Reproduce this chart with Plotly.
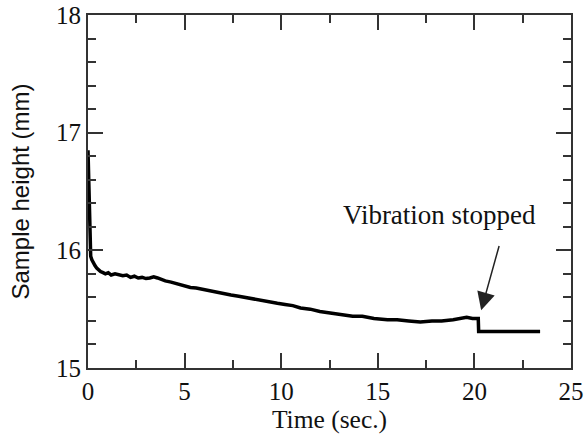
import plotly.graph_objects as go

time_s = [0.00, 0.02, 0.04, 0.06, 0.08, 0.10, 0.14, 0.20, 0.28, 0.36, 0.45, 0.55, 0.65, 0.78, 0.90,
          1.05, 1.20, 1.40, 1.60, 1.80, 2.00, 2.20, 2.40, 2.60, 2.80, 3.00, 3.20, 3.40, 3.60, 3.80,
          4.00, 4.30, 4.60, 5.00, 5.30, 5.60, 6.00, 6.40, 6.70, 7.00, 7.40, 7.80, 8.10, 8.40, 8.80,
          9.20, 9.50, 9.80, 10.20, 10.60, 11.00, 11.50, 12.00, 12.50, 13.00, 13.70, 14.20, 14.80,
          15.50, 16.00, 16.60, 17.20, 17.80, 18.30, 18.90, 19.30, 19.60, 19.90, 20.20, 20.22,
          20.50, 21.00, 21.50, 22.00, 22.50, 23.00, 23.40]
height_mm = [16.85, 16.72, 16.50, 16.30, 16.12, 16.00, 15.95, 15.92, 15.89, 15.87, 15.85, 15.83, 15.82, 15.81, 15.80,
             15.81, 15.79, 15.80, 15.79, 15.785, 15.79, 15.77, 15.78, 15.765, 15.77, 15.76, 15.765, 15.775, 15.765, 15.75,
             15.74, 15.73, 15.715, 15.70, 15.685, 15.68, 15.665, 15.65, 15.64, 15.63, 15.62, 15.61, 15.60, 15.59, 15.58,
             15.57, 15.56, 15.55, 15.54, 15.53, 15.51, 15.50, 15.48, 15.47, 15.46, 15.44, 15.44, 15.42,
             15.41, 15.41, 15.40, 15.39, 15.40, 15.40, 15.41, 15.42, 15.43, 15.42, 15.42, 15.31,
             15.31, 15.315, 15.31, 15.31, 15.315, 15.31, 15.31]

x_ticks = [0, 5, 10, 15, 20, 25]
y_ticks = [15, 16, 17, 18]

serif = "Liberation Serif, Times New Roman, serif"
sans = "Liberation Sans, Arial, sans-serif"
axcol = "#333333"
txt = "#111111"

fig = go.Figure()
fig.add_trace(go.Scatter(x=time_s, y=height_mm, mode="lines",
                         line=dict(color="black", width=3.5), showlegend=False))

common = dict(showgrid=False, zeroline=False, showline=True, linecolor=axcol, linewidth=2,
              mirror="ticks", ticks="inside", ticklen=15, tickwidth=2, tickcolor=axcol,
              automargin=False, tickfont=dict(family=serif, size=25, color=txt))

fig.update_xaxes(range=[0, 25], tickvals=x_ticks, ticktext=[str(v) for v in x_ticks],
                 minor=dict(dtick=2.5, tick0=0, ticks="inside", ticklen=8, tickwidth=2, tickcolor=axcol),
                 title=dict(text="Time (sec.)", font=dict(family=serif, size=25.5, color=txt), standoff=5),
                 **common)
fig.update_yaxes(range=[15, 18], tickvals=y_ticks, ticktext=[str(v) for v in y_ticks],
                 minor=dict(dtick=0.2, tick0=15, ticks="inside", ticklen=8, tickwidth=2, tickcolor=axcol),
                 title=dict(text="Sample height (mm)", font=dict(family=sans, size=24, color=txt), standoff=20),
                 **common)

fig.add_annotation(x=20.35, y=15.49, ax=21.3, ay=16.05, xref="x", yref="y", axref="x", ayref="y",
                   text="", showarrow=True, arrowhead=2, arrowsize=2.4, arrowwidth=1.5, arrowcolor="#222")
fig.add_annotation(x=18.2, y=16.30, xref="x", yref="y", text="Vibration stopped", showarrow=False,
                   font=dict(family=serif, size=27, color=txt))

fig.update_layout(width=585, height=440, margin=dict(l=88, r=14, t=15, b=72),
                  paper_bgcolor="white", plot_bgcolor="white")

fig.write_html("out.html")
